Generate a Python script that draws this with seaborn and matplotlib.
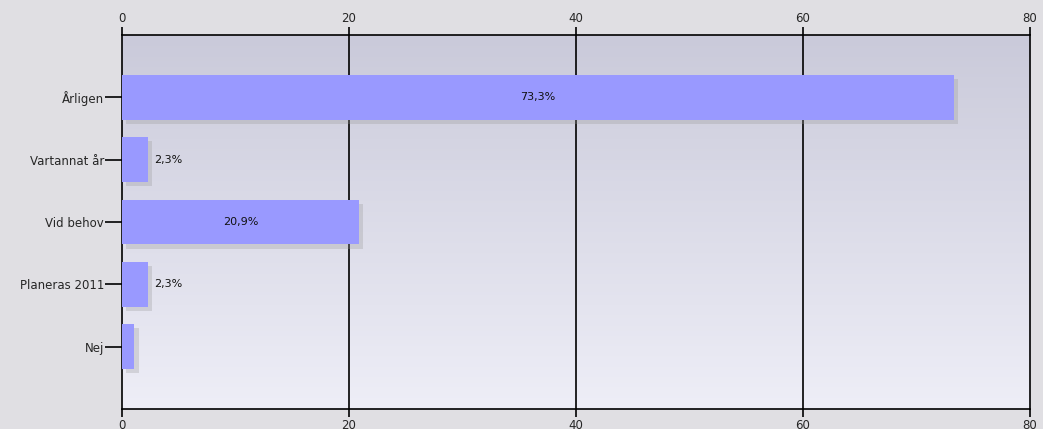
import numpy as np
import pandas as pd
import matplotlib
matplotlib.use("Agg")
import matplotlib.pyplot as plt
import matplotlib.patheffects as pe
import seaborn as sns

# data
categories = ["Årligen", "Vartannat år", "Vid behov", "Planeras 2011", "Nej"]
values = [73.3, 2.3, 20.9, 2.3, 1.1]
labels = ["73,3%", "2,3%", "20,9%", "2,3%", ""]
x_ticks = [0, 20, 40, 60, 80]

df = pd.DataFrame({"Svar": categories, "Andel": values})

sns.set_style("white")
plt.rcParams["font.family"] = ["DejaVu Sans"]

fig = plt.figure(figsize=(10.43, 4.29), dpi=100, facecolor="#e0dfe3")
ax = fig.add_axes([122 / 1043, 20 / 429, 908 / 1043, 374 / 429])

# background gradient
grad = np.linspace(0, 1, 256).reshape(-1, 1)
cmap = matplotlib.colors.LinearSegmentedColormap.from_list("bg", ["#cacada", "#eeeef7"])
ax.imshow(grad, extent=[0, 80, 5, -1], aspect="auto", cmap=cmap, zorder=0)

# vertical grid lines
for t in x_ticks[1:-1]:
    ax.axvline(t, color="black", lw=1.2, zorder=1)

sns.barplot(data=df, x="Andel", y="Svar", orient="h", color="#9999ff",
            saturation=1, width=0.72, ax=ax, zorder=3)

for p in ax.patches:
    p.set_path_effects([pe.withSimplePatchShadow(offset=(3, -3), shadow_rgbFace="#999999", alpha=0.3),
                        pe.Normal()])
    p.set_edgecolor("none")

for i, (v, lab) in enumerate(zip(values, labels)):
    if not lab:
        continue
    if v > 10:
        ax.text(v / 2, i, lab, ha="center", va="center", fontsize=8, color="#111111", zorder=4)
    else:
        ax.text(v + 0.55, i, lab, ha="left", va="center", fontsize=8, color="#111111", zorder=4)

ax.set_xlim(0, 80)
ax.set_ylim(5, -1)
ax.set_xticks(x_ticks)
ax.set_xlabel("")
ax.set_ylabel("")
ax.tick_params(axis="x", top=True, labeltop=True, bottom=True, labelbottom=True,
               direction="out", length=6, width=1.2, color="black", labelsize=8.5, pad=1)
ax.tick_params(axis="y", left=True, direction="out", length=12, width=1.2,
               color="black", labelsize=8.5, pad=1)
for s in ax.spines.values():
    s.set_visible(True)
    s.set_color("black")
    s.set_linewidth(1.2)
ax.set_facecolor("#e0dfe3")

fig.savefig("out.png", dpi=100, facecolor=fig.get_facecolor())
